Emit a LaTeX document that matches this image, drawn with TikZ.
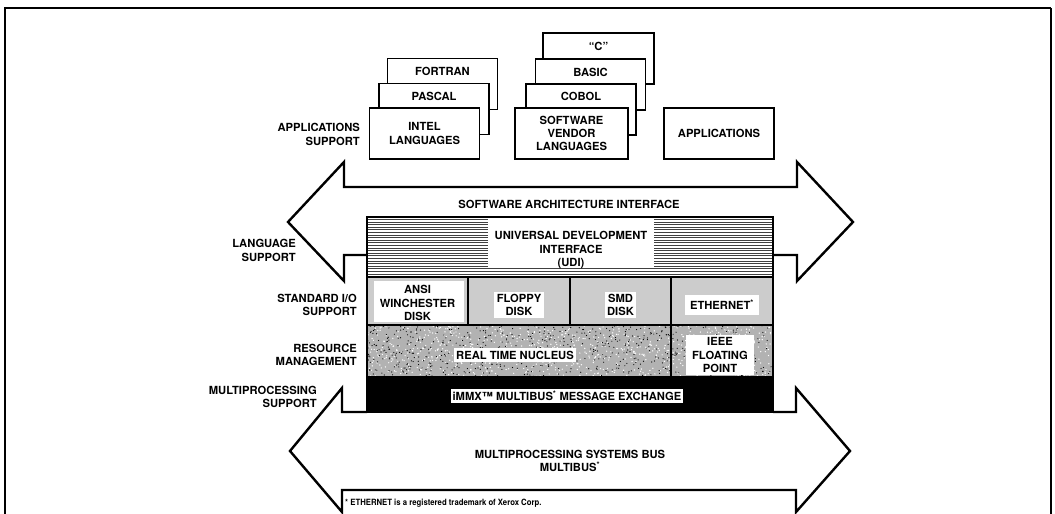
\documentclass[tikz,border=0pt]{standalone}
\usepackage{fontspec}
\setmainfont{TeX Gyre Heros}
\newfontfamily\narrowfont[FakeStretch=0.9]{TeX Gyre Heros}
\begin{document}
\begin{tikzpicture}[x=1pt,y=-1pt,
  txt/.style={font=\fontsize{11.2}{13.3}\selectfont\bfseries, align=center, inner sep=1pt},
  lefttxt/.style={txt, align=right, anchor=east},
  lbox/.style={draw, line width=1.4pt, fill=white, minimum width=110pt, minimum height=51pt, inner sep=0pt},
  outline/.style={line width=2.4pt, line join=miter},
  patch/.style={txt, fill=white, inner sep=2.5pt},
  divider/.style={line width=1.8pt},
]
\useasboundingbox (0,0) rectangle (1055,514);
% frame
\draw[line width=2.6pt] (5,514) -- (5,8) -- (1051,8);
\draw[line width=1.2pt] (1051,8) -- (1051,514);

% ---------- application boxes ----------
\node[lbox] (fortran) at (442.5,84) {};
\node[lbox] (pascal) at (434,109) {};
\node[lbox] (intel) at (424.5,133.5) {};
\node[txt] at (442.5,71.5) {FORTRAN};
\node[txt] at (434,96) {PASCAL};
\node[txt] at (intel) {INTEL\\LANGUAGES};

\node[lbox, minimum width=111pt] (cbox) at (598.5,58.5) {};
\node[lbox] (basic) at (590.5,84.5) {};
\node[lbox] (cobol) at (581,109.5) {};
\node[lbox, minimum width=113pt] (svl) at (571.5,133.5) {};
\node[txt] at (598.5,46) {``C''};
\node[txt] at (590.5,72) {BASIC};
\node[txt] at (581,96.5) {COBOL};
\node[txt] at (svl) {SOFTWARE\\VENDOR\\LANGUAGES};
\node[lbox, txt, inner sep=0pt] (apps) at (719,133.5) {APPLICATIONS};

\node[lefttxt] (lblapp) at (361,134.5) {APPLICATIONS\\SUPPORT};

% ---------- upper arrow ----------
\draw[outline] (367,255) -- (344,255) -- (344,281) -- (288,222) -- (344,162) -- (344,187)
  -- (797,187) -- (797,162) -- (853,222) -- (797,281) -- (797,255) -- (773,255);
\node[txt] (sai) at (569,204) {SOFTWARE ARCHITECTURE INTERFACE};

% ---------- layered block ----------
% UDI hatched
\fill[white] (367,217) rectangle (773,277);
\foreach \yy in {219.4,222,...,276.5}
  \draw[line width=0.9pt, black!75] (367,\yy) -- (773,\yy);
\fill[white] (488,217) rectangle (654,268);
\node[txt] (udi) at (571,250) {UNIVERSAL DEVELOPMENT\\INTERFACE\\(UDI)};

% standard I/O row
\fill[black!20] (367,277) rectangle (773,325);
\fill[white] (374,281) rectangle (464,322);
\node[txt] (ansi) at (417.5,303) {ANSI\\WINCHESTER\\DISK};
\node[patch] (floppy) at (519,305) {FLOPPY\\DISK};
\node[patch] (smd) at (620.5,305) {SMD\\DISK};
\node[patch, inner xsep=5pt, inner ysep=5pt] (eth) at (722,305) {ETHERNET\textsuperscript{*}};

% resource row
\fill[black!30] (367,325) rectangle (773,377);
\pgfmathsetseed{11}
\foreach \i in {1,...,900}
  \fill[white] ({367+406*rnd},{325+52*rnd}) circle (0.7pt);
\foreach \i in {1,...,700}
  \fill[black] ({367+406*rnd},{325+52*rnd}) circle (0.6pt);
\node[patch] (rtn) at (515,355) {REAL TIME NUCLEUS};
\node[patch, inner xsep=6pt] (ieee) at (720,355) {IEEE\\FLOATING\\POINT};

% message exchange row
\fill[black] (367,377) rectangle (773,412);
\node[patch, inner sep=2pt] (immx) at (567,396) {iMMX\texttrademark\ MULTIBUS\textsuperscript{*} MESSAGE EXCHANGE};

% block lines
\draw[divider] (367,277) -- (773,277);
\draw[divider] (367,325) -- (773,325);
\draw[divider] (367,377) -- (773,377);
\draw[divider] (468,277) -- (468,325);
\draw[divider] (570,277) -- (570,325);
\draw[divider] (671,277) -- (671,377);
\draw[line width=2pt] (367,217) rectangle (773,412);

% ---------- lower arrow ----------
\draw[outline] (367,412) -- (342,412) -- (342,388) -- (290,451) -- (342,512) -- (342,490)
  -- (796,490) -- (796,512) -- (850,451) -- (796,388) -- (796,412) -- (773,412);
\node[txt] (msb) at (570,461) {MULTIPROCESSING SYSTEMS BUS\\MULTIBUS\textsuperscript{*}};
\node[anchor=west, inner sep=0pt, font=\narrowfont\fontsize{8.6}{10}\selectfont\bfseries] (foot) at (345,503)
  {* ETHERNET is a registered trademark of Xerox Corp.};

% ---------- left labels ----------
\node[lefttxt] (lbllang) at (297,250.5) {LANGUAGE\\SUPPORT};
\node[lefttxt] (lblio) at (358,305) {STANDARD I/O\\SUPPORT};
\node[lefttxt] (lblres) at (358,355) {RESOURCE\\MANAGEMENT};
\node[lefttxt] (lblmp) at (318,397) {MULTIPROCESSING\\SUPPORT};
\end{tikzpicture}
\end{document}
